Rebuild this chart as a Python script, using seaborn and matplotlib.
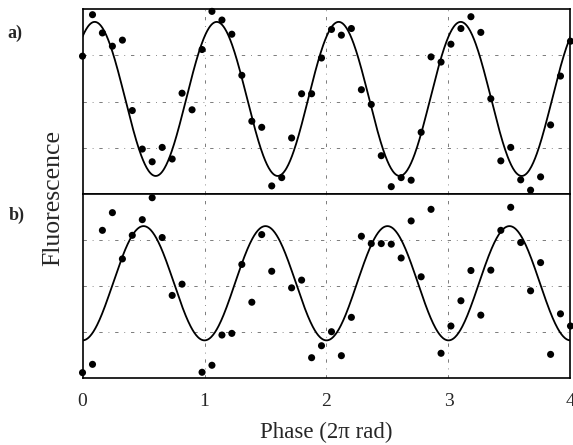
import numpy as np
import pandas as pd
import matplotlib
matplotlib.use("Agg")
import matplotlib.pyplot as plt
import seaborn as sns

# ---- data ----
phase = [0.000, 0.082, 0.163, 0.245, 0.327, 0.408, 0.490, 0.571, 0.653, 0.735,
         0.816, 0.898, 0.980, 1.061, 1.143, 1.224, 1.306, 1.388, 1.469, 1.551,
         1.633, 1.714, 1.796, 1.878, 1.959, 2.041, 2.122, 2.204, 2.286, 2.367,
         2.449, 2.531, 2.612, 2.694, 2.776, 2.857, 2.939, 3.020, 3.102, 3.184,
         3.265, 3.347, 3.429, 3.510, 3.592, 3.673, 3.755, 3.837, 3.918, 4.000]

fluor_a = [0.746, 0.971, 0.872, 0.800, 0.833, 0.451, 0.242, 0.173, 0.251, 0.188,
           0.545, 0.455, 0.782, 0.989, 0.942, 0.865, 0.642, 0.393, 0.360, 0.042,
           0.087, 0.302, 0.542, 0.542, 0.736, 0.891, 0.860, 0.896, 0.564, 0.484,
           0.206, 0.038, 0.087, 0.073, 0.333, 0.742, 0.714, 0.811, 0.896, 0.960,
           0.875, 0.515, 0.178, 0.251, 0.075, 0.019, 0.091, 0.373, 0.638, 0.827]

fluor_b = [0.029, 0.074, 0.801, 0.897, 0.646, 0.774, 0.859, 0.978, 0.762, 0.448,
           0.509, np.nan, 0.031, 0.069, 0.233, 0.242, 0.616, 0.411, 0.778, 0.579,
           np.nan, 0.489, 0.531, 0.110, 0.175, 0.251, 0.121, 0.329, 0.769, 0.729,
           0.729, 0.726, 0.651, 0.852, 0.549, 0.915, 0.134, 0.282, 0.419, 0.583,
           0.341, 0.585, 0.801, 0.926, 0.735, 0.473, 0.626, 0.128, 0.348, 0.282]

# fitted cosine parameters (offset, amplitude, phase of maximum)
fit_a = dict(offset=0.514, amp=0.418, peak=0.10)
fit_b = dict(offset=0.514, amp=0.310, peak=0.50)

x_ticks = [0, 1, 2, 3, 4]
panel_labels = ["a)", "b)"]

# ---- style ----
sns.set_style("white")
plt.rcParams["font.family"] = ["Liberation Serif", "DejaVu Serif"]
plt.rcParams["mathtext.fontset"] = "stix"

fig, axes = plt.subplots(2, 1, figsize=(5.73, 4.45), dpi=100, sharex=True)
fig.subplots_adjust(left=0.144, right=0.9956, top=0.979, bottom=0.1506, hspace=0)

grid_kw = dict(color="#666666", lw=0.6, linestyle=(0, (4, 7, 1, 7)), zorder=0)
phi = np.linspace(0, 4, 800)

for ax, yvals, fit in zip(axes, [fluor_a, fluor_b], [fit_a, fit_b]):
    df = pd.DataFrame({"phase": phase, "fluor": yvals}).dropna()
    curve = pd.DataFrame({
        "phase": phi,
        "fluor": fit["offset"] + fit["amp"] * np.cos(2 * np.pi * (phi - fit["peak"])),
    })
    sns.lineplot(data=curve, x="phase", y="fluor", ax=ax, color="black",
                 lw=1.3, zorder=3)
    sns.scatterplot(data=df, x="phase", y="fluor", ax=ax, color="black",
                    s=26, edgecolor="none", zorder=4, clip_on=False)
    ax.set_xlim(0, 4)
    ax.set_ylim(0, 1)
    for g in [0.25, 0.5, 0.75]:
        ax.axhline(g, **grid_kw)
    for g in [1, 2, 3]:
        ax.axvline(g, **grid_kw)
    ax.set_yticks([0.25, 0.5, 0.75])
    ax.set_yticklabels([])
    ax.set_xlabel("")
    ax.set_ylabel("")
    for sp in ax.spines.values():
        sp.set_linewidth(1.2)
        sp.set_color("black")
    ax.tick_params(axis="both", direction="in", length=3, width=0.8,
                   color="black")

axes[1].set_xticks(x_ticks)
axes[1].set_xticklabels([str(t) for t in x_ticks], fontsize=14)
axes[1].tick_params(axis="x", direction="inout", length=6, pad=7.5)
axes[1].set_xlabel("Phase (2π rad)", fontsize=16.5, labelpad=9)

fig.text(0.093, 0.555, "Fluorescence", rotation=90, ha="center", va="center",
         fontsize=18.5)
fig.text(0.012, 0.925, panel_labels[0], fontsize=13, fontweight="bold",
         ha="left", va="center")
fig.text(0.015, 0.517, panel_labels[1], fontsize=13, fontweight="bold",
         ha="left", va="center")

fig.savefig("out.png", dpi=100)
